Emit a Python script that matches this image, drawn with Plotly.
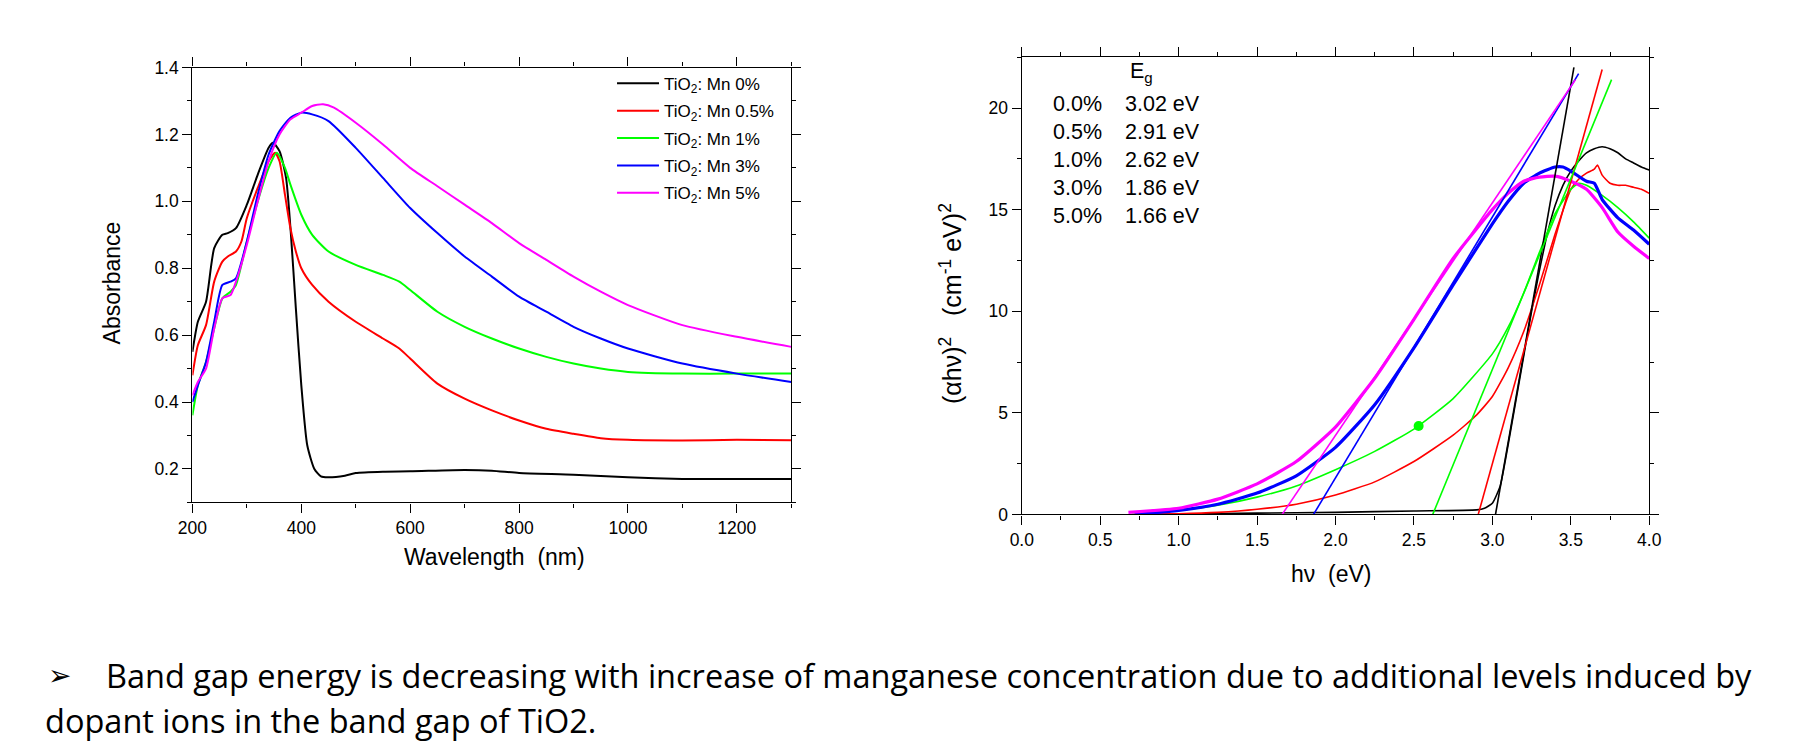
import plotly.graph_objects as go

W, H = 1799, 749

# ---------------- Left panel data: absorbance spectra ----------------
wl_0 = [200, 210, 225, 240, 255, 265, 280, 300, 320, 340, 348, 360, 372, 381, 390, 400, 411, 424, 436, 449, 480, 500, 550, 600, 700, 750, 800, 900, 1000, 1100, 1200, 1300]
ab_0 = [0.55, 0.64, 0.70, 0.86, 0.90, 0.905, 0.92, 0.99, 1.08, 1.16, 1.175, 1.15, 1.07, 0.90, 0.68, 0.45, 0.27, 0.20, 0.178, 0.175, 0.18, 0.188, 0.192, 0.193, 0.197, 0.195, 0.188, 0.183, 0.175, 0.17, 0.17, 0.17]

wl_05 = [200, 210, 225, 240, 255, 265, 280, 290, 300, 320, 340, 352, 360, 370, 380, 390, 400, 420, 450, 500, 550, 580, 600, 650, 700, 750, 800, 850, 900, 950, 1000, 1100, 1200, 1300]
ab_05 = [0.48, 0.57, 0.63, 0.76, 0.82, 0.835, 0.85, 0.88, 0.95, 1.04, 1.12, 1.145, 1.12, 1.02, 0.92, 0.85, 0.80, 0.75, 0.70, 0.64, 0.59, 0.56, 0.53, 0.455, 0.41, 0.375, 0.345, 0.32, 0.305, 0.292, 0.287, 0.285, 0.287, 0.286]

wl_1 = [200, 210, 225, 240, 255, 270, 280, 300, 320, 340, 355, 370, 380, 400, 420, 450, 500, 550, 580, 600, 650, 700, 750, 800, 850, 900, 950, 1000, 1100, 1200, 1300]
ab_1 = [0.36, 0.45, 0.52, 0.62, 0.71, 0.73, 0.75, 0.88, 1.00, 1.10, 1.145, 1.10, 1.05, 0.96, 0.90, 0.85, 0.81, 0.78, 0.76, 0.735, 0.67, 0.625, 0.59, 0.56, 0.535, 0.515, 0.50, 0.49, 0.485, 0.485, 0.485]

wl_3 = [200, 210, 225, 240, 255, 270, 280, 300, 320, 340, 360, 380, 400, 420, 450, 500, 550, 600, 650, 700, 750, 800, 850, 900, 950, 1000, 1100, 1200, 1300]
ab_3 = [0.40, 0.45, 0.52, 0.64, 0.75, 0.76, 0.77, 0.88, 1.02, 1.14, 1.21, 1.25, 1.265, 1.26, 1.24, 1.16, 1.07, 0.98, 0.905, 0.835, 0.775, 0.715, 0.67, 0.625, 0.59, 0.56, 0.515, 0.485, 0.46]

wl_5 = [200, 210, 225, 240, 255, 270, 280, 300, 320, 340, 360, 380, 400, 420, 440, 460, 500, 550, 600, 650, 700, 750, 800, 850, 900, 950, 1000, 1100, 1200, 1300]
ab_5 = [0.42, 0.46, 0.50, 0.62, 0.71, 0.72, 0.76, 0.87, 1.00, 1.12, 1.20, 1.245, 1.265, 1.285, 1.29, 1.28, 1.235, 1.17, 1.10, 1.045, 0.99, 0.935, 0.875, 0.825, 0.775, 0.73, 0.69, 0.63, 0.595, 0.565]

legend_names = ["TiO<sub>2</sub>: Mn 0%", "TiO<sub>2</sub>: Mn 0.5%", "TiO<sub>2</sub>: Mn 1%",
                "TiO<sub>2</sub>: Mn 3%", "TiO<sub>2</sub>: Mn 5%"]
colors = ["#000000", "#FF0000", "#00FF00", "#0000FF", "#FF00FF"]

# ---------------- Right panel data: Tauc plot ----------------
e_0 = [0.74, 1.0, 1.5, 2.0, 2.5, 2.9, 2.95, 3.0, 3.05, 3.1, 3.15, 3.2, 3.25, 3.3, 3.35, 3.4, 3.45, 3.5, 3.55, 3.6, 3.65, 3.7, 3.75, 3.8, 3.85, 3.9, 3.95, 4.0]
t_0 = [0.0, 0.02, 0.06, 0.10, 0.17, 0.22, 0.30, 0.55, 1.4, 3.4, 5.6, 7.8, 10.0, 12.0, 13.8, 15.2, 16.2, 16.9, 17.4, 17.8, 18.0, 18.1, 18.0, 17.8, 17.5, 17.3, 17.1, 16.95]

e_05 = [0.73, 1.0, 1.25, 1.5, 1.75, 2.0, 2.25, 2.5, 2.75, 2.9, 3.0, 3.1, 3.2, 3.3, 3.4, 3.5, 3.55, 3.6, 3.65, 3.67, 3.7, 3.75, 3.8, 3.85, 3.9, 3.95, 4.0]
t_05 = [0.0, 0.03, 0.10, 0.25, 0.50, 0.95, 1.6, 2.6, 3.9, 4.9, 5.8, 7.2, 9.0, 11.3, 13.8, 16.0, 16.5, 16.8, 17.0, 17.2, 16.7, 16.3, 16.2, 16.2, 16.1, 16.0, 15.8]

e_1 = [0.70, 1.0, 1.25, 1.5, 1.75, 2.0, 2.25, 2.5, 2.75, 3.0, 3.1, 3.2, 3.3, 3.4, 3.5, 3.55, 3.6, 3.7, 3.8, 3.9, 4.0]
t_1 = [0.0, 0.2, 0.45, 0.85, 1.4, 2.2, 3.1, 4.2, 5.7, 7.9, 9.2, 10.9, 12.9, 14.8, 16.0, 16.3, 16.2, 15.7, 15.1, 14.4, 13.6]

e_3 = [0.72, 1.0, 1.25, 1.5, 1.75, 2.0, 2.25, 2.5, 2.75, 3.0, 3.1, 3.2, 3.3, 3.4, 3.45, 3.5, 3.6, 3.65, 3.7, 3.8, 3.9, 4.0]
t_3 = [0.0, 0.2, 0.5, 1.05, 1.9, 3.3, 5.4, 8.2, 11.3, 14.3, 15.4, 16.3, 16.8, 17.1, 17.1, 16.9, 16.4, 16.3, 15.5, 14.6, 14.0, 13.3]

e_5 = [0.68, 1.0, 1.25, 1.5, 1.75, 2.0, 2.25, 2.5, 2.75, 3.0, 3.1, 3.2, 3.3, 3.4, 3.5, 3.6, 3.7, 3.8, 3.9, 4.0]
t_5 = [0.1, 0.3, 0.75, 1.5, 2.6, 4.3, 6.7, 9.6, 12.6, 15.0, 15.8, 16.4, 16.6, 16.65, 16.4, 16.0, 15.1, 13.9, 13.2, 12.6]

# tangent (linear-fit) lines: from x-intercept Eg to end point
eg_values = [3.02, 2.91, 2.62, 1.86, 1.66]
fit_end_x = [3.52, 3.70, 3.76, 3.55, 3.53]
fit_end_y = [22.0, 21.9, 21.4, 21.7, 21.4]

# marker on green curve
dot_x = [2.53]
dot_y = [4.35]

# Eg table text
conc_labels = ["0.0%", "0.5%", "1.0%", "3.0%", "5.0%"]
eg_labels = ["3.02 eV", "2.91 eV", "2.62 eV", "1.86 eV", "1.66 eV"]

caption_1 = "Band gap energy is decreasing with increase of manganese concentration due to additional levels induced by"
caption_2 = "dopant ions in the band gap of TiO2."

# ---------------- Figure ----------------
fig = go.Figure()

left_x = [wl_0, wl_05, wl_1, wl_3, wl_5]
left_y = [ab_0, ab_05, ab_1, ab_3, ab_5]
for i in range(5):
    fig.add_trace(go.Scatter(
        x=left_x[i], y=left_y[i], mode="lines", name=legend_names[i],
        legendgroup="g%d" % i,
        line=dict(color=colors[i], width=2, shape="spline", smoothing=0.6),
        xaxis="x", yaxis="y"))

right_x = [e_0, e_05, e_1, e_3, e_5]
right_y = [t_0, t_05, t_1, t_3, t_5]
right_w = [1.6, 1.6, 1.6, 3.2, 3.2]
for i in range(5):
    fig.add_trace(go.Scatter(
        x=right_x[i], y=right_y[i], mode="lines", showlegend=False,
        line=dict(color=colors[i], width=right_w[i], shape="spline", smoothing=0.5),
        xaxis="x2", yaxis="y2"))
for i in range(5):
    fig.add_trace(go.Scatter(
        x=[eg_values[i], fit_end_x[i]], y=[0, fit_end_y[i]], mode="lines", showlegend=False,
        line=dict(color=colors[i], width=1.6),
        xaxis="x2", yaxis="y2"))
fig.add_trace(go.Scatter(
    x=dot_x, y=dot_y, mode="markers", showlegend=False,
    marker=dict(color="#00FF00", size=10),
    xaxis="x2", yaxis="y2"))

FONT = "Liberation Sans, Arial, sans-serif"
tickfont = dict(family=FONT, size=17.5, color="#000000")
axis_common = dict(showline=True, linecolor="#000000", linewidth=1.4, mirror="ticks",
                   ticks="outside", ticklen=9, tickwidth=1.4, tickcolor="#000000",
                   showgrid=False, zeroline=False, tickfont=tickfont)
minor_common = dict(ticks="outside", ticklen=4, tickwidth=1.2, tickcolor="#000000", showgrid=False)

L = [172.0 / W, 780.0 / W]
LY = [1 - 497.7 / H, 1 - 50.9 / H]
R = [1014.0 / W, 1651.0 / W]
RY = [1 - 510.0 / H, 1 - 40.4 / H]

fig.update_layout(
    width=W, height=H,
    margin=dict(l=0, r=0, t=0, b=0),
    paper_bgcolor="#FFFFFF", plot_bgcolor="#FFFFFF",
    showlegend=True,
    legend=dict(x=598 / W, y=1 - 49 / H, xanchor="left", yanchor="top",
                bgcolor="rgba(0,0,0,0)", font=dict(family=FONT, size=17, color="#000000"),
                tracegroupgap=2.3, itemwidth=42),
    xaxis=dict(domain=L, range=[200, 1300], tick0=200, dtick=200, anchor="y",
               minor=dict(dtick=100, **minor_common), **axis_common),
    yaxis=dict(domain=LY, range=[0.1, 1.4], tick0=0.2, dtick=0.2, tickformat=".1f", anchor="x",
               minor=dict(dtick=0.1, **minor_common), **axis_common),
    xaxis2=dict(domain=R, range=[0, 4], tick0=0, dtick=0.5, tickformat=".1f", anchor="y2",
                minor=dict(dtick=0.25, **minor_common), **axis_common),
    yaxis2=dict(domain=RY, range=[0, 22.5], tick0=0, dtick=5, anchor="x2",
                minor=dict(dtick=2.5, **minor_common), **axis_common),
)

NB = "\u00a0"
ann = []
title_font = dict(family=FONT, size=23, color="#000000")
ann.append(dict(text="Wavelength" + NB + NB + "(nm)", x=479 / W, y=1 - 554 / H, xref="paper", yref="paper",
                xanchor="center", yanchor="middle", showarrow=False, font=title_font))
ann.append(dict(text="Absorbance", x=90 / W, y=1 - 272 / H, xref="paper", yref="paper",
                xanchor="center", yanchor="middle", textangle=-90, showarrow=False, font=title_font))
ann.append(dict(text="h\u03bd" + NB + NB + "(eV)", x=1328 / W, y=1 - 571 / H, xref="paper", yref="paper",
                xanchor="center", yanchor="middle", showarrow=False, font=title_font))
ann.append(dict(text="(\u03b1h\u03bd)<sup>2</sup>" + NB + NB + NB + "(cm<sup>-1</sup>" + NB + "eV)<sup>2</sup>",
                x=942 / W, y=1 - 293 / H,
                xref="paper", yref="paper", xanchor="center", yanchor="middle", textangle=-90,
                showarrow=False, font=dict(family=FONT, size=25, color="#000000")))

tab_font = dict(family=FONT, size=21.5, color="#000000")
ann.append(dict(text="E<sub>g</sub>", x=1122 / W, y=1 - 56 / H, xref="paper", yref="paper",
                xanchor="left", yanchor="middle", showarrow=False, font=tab_font))
ann.append(dict(text="<br>".join(conc_labels), x=1044 / W, y=1 - 146 / H, xref="paper", yref="paper",
                xanchor="left", yanchor="middle", align="left", showarrow=False, font=tab_font))
ann.append(dict(text="<br>".join(eg_labels), x=1117 / W, y=1 - 146 / H, xref="paper", yref="paper",
                xanchor="left", yanchor="middle", align="left", showarrow=False, font=tab_font))

cap_font = dict(family="Open Sans, Noto Sans, sans-serif", size=32.5, color="#000000")
ann.append(dict(text="\u27a2", x=23 / W, y=1 - 676 / H, xref="paper", yref="paper",
                xanchor="left", yanchor="middle", showarrow=False,
                font=dict(family="DejaVu Sans, sans-serif", size=28, color="#000000")))
ann.append(dict(text=caption_1, x=82 / W, y=1 - 676 / H, xref="paper", yref="paper",
                xanchor="left", yanchor="middle", showarrow=False, font=cap_font))
ann.append(dict(text=caption_2, x=20 / W, y=1 - 722 / H, xref="paper", yref="paper",
                xanchor="left", yanchor="middle", showarrow=False, font=cap_font))
fig.update_layout(annotations=ann)

fig.write_html("out.html")
